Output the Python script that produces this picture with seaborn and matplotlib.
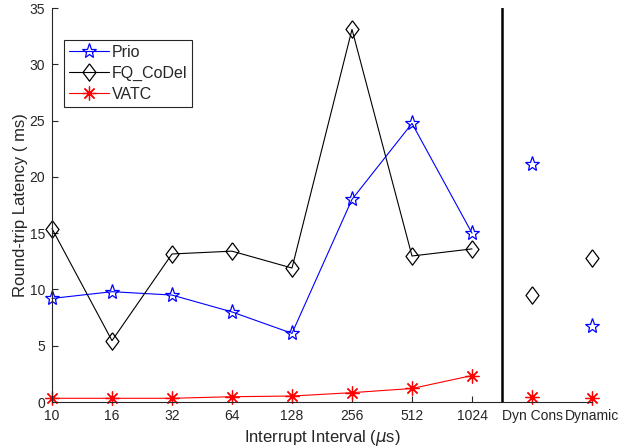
import matplotlib
matplotlib.use("Agg")
import matplotlib.pyplot as plt
import seaborn as sns
import numpy as np
import pandas as pd

categories = ["10", "16", "32", "64", "128", "256", "512", "1024", "Dyn Cons", "Dynamic"]
prio = [9.2, 9.8, 9.5, 8.0, 6.1, 18.0, 24.75, 15.0, 21.1, 6.75]
fq_codel = [15.4, 5.45, 13.15, 13.4, 11.9, 33.1, 12.97, 13.6, 9.5, 12.75]
vatc = [0.33, 0.33, 0.33, 0.47, 0.53, 0.83, 1.2, 2.35, 0.45, 0.33]
n_connected = 8

sns.set_style("ticks")
plt.rcParams["font.family"] = ["Liberation Sans", "DejaVu Sans"]
plt.rcParams["mathtext.fontset"] = "dejavusans"

fig = plt.figure(figsize=(6.29, 4.47), dpi=100)
ax = fig.add_axes([52/629, 45/447, 540/629, 394/447])

xpos = np.arange(len(categories))
diamond = [(0, 1), (0.75, 0), (0, -1), (-0.75, 0), (0, 1)]

series = [
    ("Prio", prio, "blue", "*", 11, 0.8),
    ("FQ_CoDel", fq_codel, "black", diamond, 12.5, 0.8),
    ("VATC", vatc, "red", (8, 2, 0), 10, 0.8),
]

for name, vals, color, mk, ms, lw in series:
    df_line = pd.DataFrame({"x": xpos[:n_connected], "y": vals[:n_connected]})
    df_pts = pd.DataFrame({"x": xpos[n_connected:], "y": vals[n_connected:]})
    sns.lineplot(data=df_line, x="x", y="y", ax=ax, color=color, lw=lw,
                 marker=mk, markersize=ms, markerfacecolor="none",
                 markeredgecolor=color, markeredgewidth=0.9, label=name,
                 clip_on=False)
    sns.lineplot(data=df_pts, x="x", y="y", ax=ax, color=color, lw=0,
                 linestyle="none", marker=mk, markersize=ms,
                 markerfacecolor="none", markeredgecolor=color,
                 markeredgewidth=0.9, legend=False, clip_on=False)

ax.axvline(7.5, color="black", lw=1.8, zorder=5)

ax.set_xlim(0, 9)
ax.set_ylim(0, 35)
ax.set_xticks(xpos)
ax.set_xticklabels(categories)
ax.set_yticks(np.arange(0, 36, 5))
ax.tick_params(direction="in", length=4, width=0.8, labelsize=10,
               colors="#262626", pad=5)
for s in ["top", "right"]:
    ax.spines[s].set_visible(False)
for s in ["left", "bottom"]:
    ax.spines[s].set_color("#262626")
    ax.spines[s].set_linewidth(0.8)

ax.set_xlabel(r"Interrupt Interval ($\mu$s)", fontsize=12, color="#262626", labelpad=4)
ax.set_ylabel("Round-trip Latency ( ms)", fontsize=12, color="#262626", labelpad=1)

leg = ax.legend(loc="upper left", bbox_to_anchor=(0.022, 0.919), fontsize=11.5,
                frameon=True, fancybox=False, framealpha=1, edgecolor="#262626",
                borderpad=0.3, labelspacing=0.38, handlelength=2.5,
                handletextpad=0.2, borderaxespad=0)
leg.get_frame().set_linewidth(0.8)

fig.savefig("out.png", dpi=100)
